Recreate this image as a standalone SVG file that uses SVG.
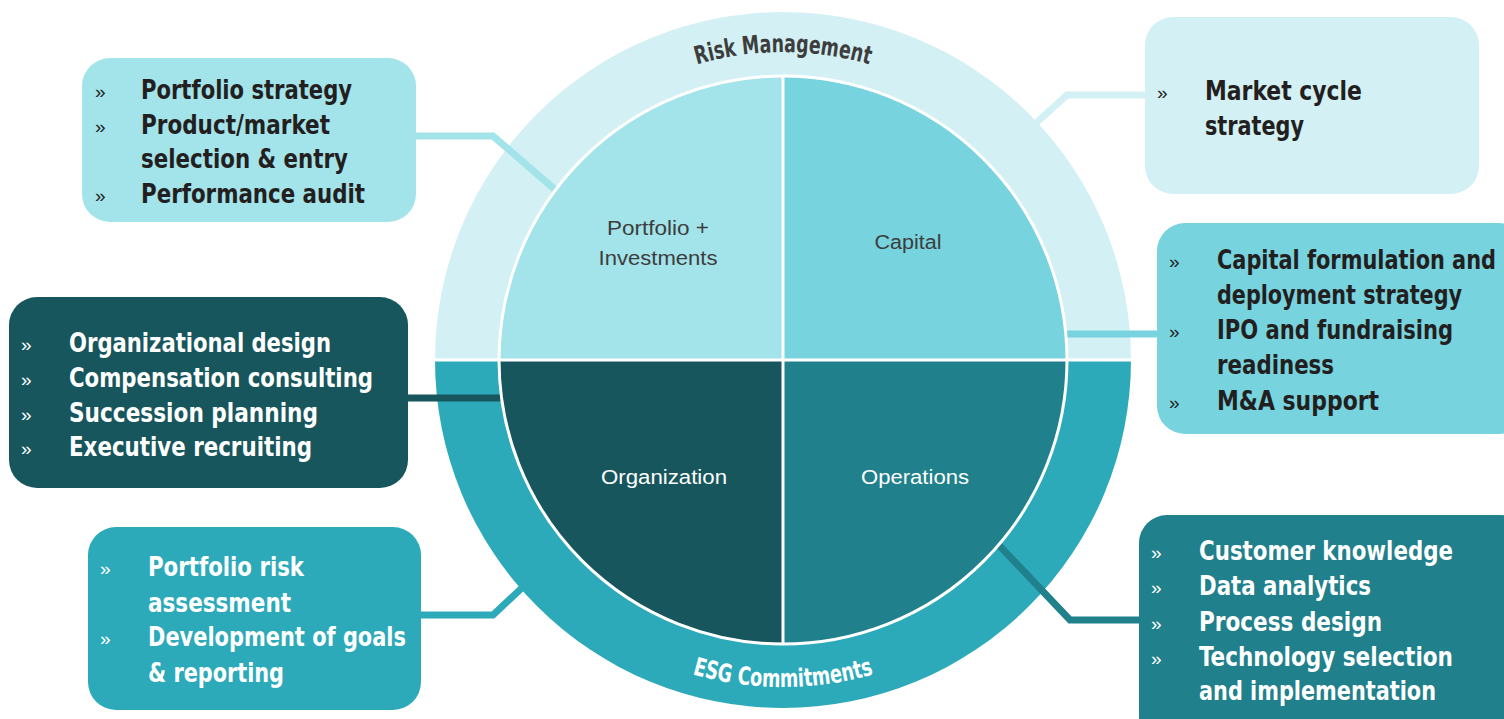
<svg xmlns="http://www.w3.org/2000/svg" width="1504" height="719" viewBox="0 0 1504 719">
<style>
.t{font-family:"Liberation Sans Narrow","DejaVu Sans Condensed","Liberation Sans",sans-serif;font-weight:bold;font-size:26px}
.b{font-family:"Liberation Sans",sans-serif;font-size:19px}
.lbl{font-family:"Liberation Sans Narrow","Liberation Sans",sans-serif;font-size:20px;text-anchor:middle}
.ring{font-family:"Liberation Sans Narrow","DejaVu Sans Condensed","Liberation Sans",sans-serif;font-size:25px;font-weight:bold}
.dk{fill:#231f20}
.wh{fill:#ffffff}
.con{fill:none;stroke-width:7;stroke-linejoin:miter}
</style>
<defs>
<path id="arcTop" d="M 475 360 A 308 308 0 0 1 1091 360"/>
<path id="arcBot" d="M 456 360 A 327 327 0 0 0 1110 360"/>
</defs>
<rect width="1504" height="719" fill="#ffffff"/>

<g id="outer-ring">
<path d="M 435 360 A 348 348 0 0 1 1131 360 Z" fill="#d3f0f4"/>
<path d="M 435 360 A 348 348 0 0 0 1131 360 Z" fill="#2caab9"/>
</g>

<g id="connectors">
<polyline class="con" stroke="#a3e3ea" points="416,136 493,136 560,194"/>
<polyline class="con" stroke="#d3f0f4" points="1145,95 1067,95 1035,124"/>
<polyline class="con" stroke="#18565d" stroke-width="8" points="408,398 510,398"/>
<polyline class="con" stroke="#77d4df" stroke-width="8" points="1056,334 1157,334"/>
<polyline class="con" stroke="#2caab9" points="421,615 493,615 525,585"/>
<polyline class="con" stroke="#20808b" points="1139,620 1070,620 995,541"/>
</g>

<g id="inner-circle">
<path d="M 783 360 L 500 360 A 283 283 0 0 1 783 77 Z" fill="#a3e3ea"/>
<path d="M 783 360 L 783 77 A 283 283 0 0 1 1066 360 Z" fill="#77d4df"/>
<path d="M 783 360 L 500 360 A 283 283 0 0 0 783 643 Z" fill="#18565d"/>
<path d="M 783 360 L 783 643 A 283 283 0 0 0 1066 360 Z" fill="#20808b"/>
<circle cx="783" cy="360" r="284" fill="none" stroke="#ffffff" stroke-width="3"/>
<line x1="435" y1="360" x2="1131" y2="360" stroke="#ffffff" stroke-width="3"/>
<line x1="783" y1="76" x2="783" y2="644" stroke="#ffffff" stroke-width="3"/>
</g>

<g id="ring-labels">
<text class="ring" fill="#3d3d3d"><textPath href="#arcTop" startOffset="50%" text-anchor="middle" textLength="175" lengthAdjust="spacingAndGlyphs">Risk Management</textPath></text>
<text class="ring" fill="#ffffff"><textPath href="#arcBot" startOffset="50%" text-anchor="middle" textLength="184" lengthAdjust="spacingAndGlyphs">ESG Commitments</textPath></text>
</g>

<g id="quadrant-portfolio">
<text class="lbl" fill="#3d3d3d" x="658" y="235" textLength="102" lengthAdjust="spacingAndGlyphs">Portfolio +</text>
<text class="lbl" fill="#3d3d3d" x="658" y="265" textLength="119" lengthAdjust="spacingAndGlyphs">Investments</text>
</g>
<g id="quadrant-capital">
<text class="lbl" fill="#3d3d3d" x="908" y="249" textLength="67" lengthAdjust="spacingAndGlyphs">Capital</text>
</g>
<g id="quadrant-organization">
<text class="lbl" fill="#ffffff" x="664" y="484" textLength="126" lengthAdjust="spacingAndGlyphs">Organization</text>
</g>
<g id="quadrant-operations">
<text class="lbl" fill="#ffffff" x="915" y="484" textLength="108" lengthAdjust="spacingAndGlyphs">Operations</text>
</g>

<g id="box-portfolio">
<rect x="82" y="58" width="334" height="164" rx="28" fill="#a3e3ea"/>
<text class="b dk" x="95" y="98">»</text>
<text class="b dk" x="95" y="133">»</text>
<text class="b dk" x="95" y="202">»</text>
<text class="t dk" x="141" y="99" textLength="211" lengthAdjust="spacingAndGlyphs">Portfolio strategy</text>
<text class="t dk" x="141" y="134" textLength="189" lengthAdjust="spacingAndGlyphs">Product/market</text>
<text class="t dk" x="141" y="168" textLength="207" lengthAdjust="spacingAndGlyphs">selection &amp; entry</text>
<text class="t dk" x="141" y="203" textLength="224" lengthAdjust="spacingAndGlyphs">Performance audit</text>
</g>

<g id="box-market">
<rect x="1145" y="17" width="334" height="177" rx="28" fill="#d3f0f4"/>
<text class="b dk" x="1157" y="99">»</text>
<text class="t dk" x="1205" y="100" textLength="157" lengthAdjust="spacingAndGlyphs">Market cycle</text>
<text class="t dk" x="1205" y="135" textLength="99" lengthAdjust="spacingAndGlyphs">strategy</text>
</g>

<g id="box-organization">
<rect x="9" y="297" width="399" height="191" rx="28" fill="#18565d"/>
<text class="b wh" x="21" y="351">»</text>
<text class="b wh" x="21" y="386">»</text>
<text class="b wh" x="21" y="421">»</text>
<text class="b wh" x="21" y="455">»</text>
<text class="t wh" x="69" y="352" textLength="262" lengthAdjust="spacingAndGlyphs">Organizational design</text>
<text class="t wh" x="69" y="387" textLength="304" lengthAdjust="spacingAndGlyphs">Compensation consulting</text>
<text class="t wh" x="69" y="422" textLength="249" lengthAdjust="spacingAndGlyphs">Succession planning</text>
<text class="t wh" x="69" y="456" textLength="243" lengthAdjust="spacingAndGlyphs">Executive recruiting</text>
</g>

<g id="box-capital">
<rect x="1157" y="223" width="370" height="211" rx="28" fill="#77d4df"/>
<text class="b dk" x="1169" y="268">»</text>
<text class="b dk" x="1169" y="338">»</text>
<text class="b dk" x="1169" y="409">»</text>
<text class="t dk" x="1217" y="269" textLength="279" lengthAdjust="spacingAndGlyphs">Capital formulation and</text>
<text class="t dk" x="1217" y="304" textLength="245" lengthAdjust="spacingAndGlyphs">deployment strategy</text>
<text class="t dk" x="1217" y="339" textLength="236" lengthAdjust="spacingAndGlyphs">IPO and fundraising</text>
<text class="t dk" x="1217" y="374" textLength="117" lengthAdjust="spacingAndGlyphs">readiness</text>
<text class="t dk" x="1217" y="410" textLength="162" lengthAdjust="spacingAndGlyphs">M&amp;A support</text>
</g>

<g id="box-esg">
<rect x="88" y="527" width="333" height="183" rx="28" fill="#2caab9"/>
<text class="b wh" x="100" y="575">»</text>
<text class="b wh" x="100" y="645">»</text>
<text class="t wh" x="148" y="576" textLength="156" lengthAdjust="spacingAndGlyphs">Portfolio risk</text>
<text class="t wh" x="148" y="612" textLength="143" lengthAdjust="spacingAndGlyphs">assessment</text>
<text class="t wh" x="148" y="646" textLength="258" lengthAdjust="spacingAndGlyphs">Development of goals</text>
<text class="t wh" x="148" y="682" textLength="136" lengthAdjust="spacingAndGlyphs">&amp; reporting</text>
</g>

<g id="box-operations">
<rect x="1139" y="515" width="390" height="230" rx="28" fill="#20808b"/>
<text class="b wh" x="1151" y="559">»</text>
<text class="b wh" x="1151" y="594">»</text>
<text class="b wh" x="1151" y="630">»</text>
<text class="b wh" x="1151" y="665">»</text>
<text class="t wh" x="1199" y="560" textLength="254" lengthAdjust="spacingAndGlyphs">Customer knowledge</text>
<text class="t wh" x="1199" y="595" textLength="172" lengthAdjust="spacingAndGlyphs">Data analytics</text>
<text class="t wh" x="1199" y="631" textLength="183" lengthAdjust="spacingAndGlyphs">Process design</text>
<text class="t wh" x="1199" y="666" textLength="254" lengthAdjust="spacingAndGlyphs">Technology selection</text>
<text class="t wh" x="1199" y="700" textLength="237" lengthAdjust="spacingAndGlyphs">and implementation</text>
</g>
</svg>
